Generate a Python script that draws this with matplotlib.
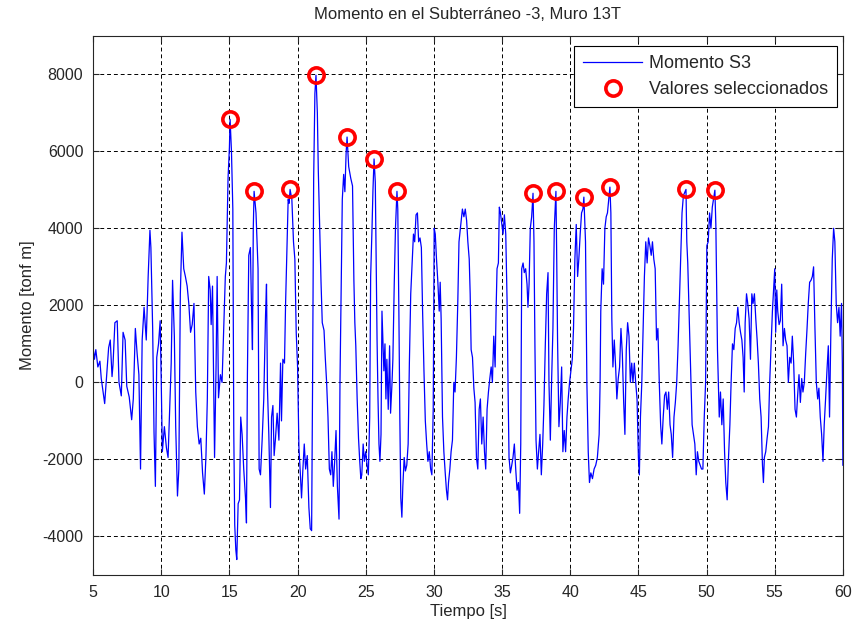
import matplotlib
matplotlib.use("Agg")
import matplotlib.pyplot as plt

plt.rcParams['font.family'] = ['Liberation Sans', 'DejaVu Sans']
plt.rcParams['axes.unicode_minus'] = False

# señal digitalizada (tiempo [s], momento [tonf m])
tiempo = [
    5.0, 5.1, 5.2, 5.35, 5.5, 5.6, 5.75, 5.85, 6.0, 6.14, 6.26, 6.39, 6.46, 6.6, 6.77, 6.9,
    7.07, 7.2, 7.35, 7.47, 7.65, 7.83, 7.95, 8.1, 8.23, 8.36, 8.48, 8.6, 8.74, 8.9, 9.04, 9.17,
    9.24, 9.37, 9.47, 9.57, 9.67, 9.8, 9.92, 10.0, 10.08, 10.23, 10.38, 10.5, 10.63, 10.73, 10.83, 10.96,
    11.06, 11.19, 11.29, 11.4, 11.52, 11.65, 11.77, 11.9, 12.02, 12.15, 12.27, 12.4, 12.53, 12.65, 12.78, 12.9,
    13.03, 13.16, 13.28, 13.38, 13.48, 13.59, 13.66, 13.76, 13.91, 14.02, 14.1, 14.2, 14.34, 14.46, 14.58, 14.7,
    14.78, 14.9, 15.0, 15.05, 15.15, 15.25, 15.32, 15.39, 15.47, 15.54, 15.64, 15.74, 15.83, 15.93, 16.05, 16.18,
    16.25, 16.32, 16.42, 16.54, 16.62, 16.69, 16.75, 16.81, 16.95, 17.1, 17.18, 17.28, 17.4, 17.52, 17.65, 17.72,
    17.79, 17.89, 18.01, 18.09, 18.19, 18.28, 18.38, 18.5, 18.63, 18.75, 18.82, 18.92, 19.04, 19.12, 19.22, 19.31,
    19.38, 19.45, 19.58, 19.7, 19.8, 19.9, 20.0, 20.1, 20.2, 20.29, 20.39, 20.49, 20.59, 20.71, 20.83, 20.93,
    21.03, 21.1, 21.18, 21.27, 21.35, 21.45, 21.52, 21.62, 21.72, 21.81, 21.94, 22.03, 22.13, 22.23, 22.33, 22.43,
    22.52, 22.62, 22.72, 22.82, 22.92, 23.04, 23.11, 23.21, 23.28, 23.38, 23.47, 23.56, 23.63, 23.75, 23.9, 24.03,
    24.13, 24.2, 24.27, 24.37, 24.47, 24.56, 24.64, 24.71, 24.81, 24.9, 25.0, 25.1, 25.19, 25.29, 25.36, 25.46,
    25.53, 25.61, 25.7, 25.75, 25.83, 25.9, 25.97, 26.04, 26.12, 26.19, 26.26, 26.33, 26.41, 26.48, 26.55, 26.65,
    26.75, 26.82, 26.92, 26.99, 27.09, 27.18, 27.29, 27.35, 27.43, 27.5, 27.57, 27.65, 27.72, 27.82, 27.91, 28.01,
    28.11, 28.2, 28.3, 28.4, 28.5, 28.59, 28.69, 28.79, 28.88, 28.98, 29.08, 29.17, 29.27, 29.37, 29.47, 29.56,
    29.66, 29.76, 29.85, 29.95, 30.02, 30.1, 30.19, 30.29, 30.39, 30.46, 30.53, 30.63, 30.73, 30.83, 30.92, 31.0,
    31.07, 31.17, 31.26, 31.36, 31.46, 31.55, 31.65, 31.75, 31.84, 31.97, 32.09, 32.2, 32.3, 32.4, 32.49, 32.59,
    32.66, 32.73, 32.83, 32.93, 33.02, 33.12, 33.22, 33.32, 33.41, 33.51, 33.61, 33.71, 33.8, 33.9, 34.0, 34.1,
    34.2, 34.29, 34.39, 34.49, 34.56, 34.63, 34.73, 34.8, 34.88, 34.98, 35.07, 35.17, 35.27, 35.37, 35.44, 35.51,
    35.61, 35.71, 35.8, 35.9, 36.0, 36.1, 36.2, 36.29, 36.37, 36.44, 36.54, 36.63, 36.73, 36.83, 36.9, 36.98,
    37.07, 37.17, 37.27, 37.34, 37.41, 37.49, 37.59, 37.68, 37.78, 37.88, 37.98, 38.07, 38.17, 38.27, 38.37, 38.44,
    38.54, 38.63, 38.73, 38.83, 38.95, 39.0, 39.07, 39.17, 39.27, 39.37, 39.46, 39.56, 39.66, 39.76, 39.85, 39.95,
    40.05, 40.15, 40.24, 40.34, 40.44, 40.54, 40.63, 40.73, 40.83, 40.93, 41.0, 41.12, 41.22, 41.32, 41.41, 41.51,
    41.63, 41.75, 41.87, 41.99, 42.12, 42.19, 42.24, 42.34, 42.44, 42.54, 42.64, 42.73, 42.91, 42.98, 43.05, 43.13,
    43.23, 43.33, 43.42, 43.52, 43.62, 43.72, 43.82, 43.92, 44.01, 44.11, 44.21, 44.31, 44.41, 44.51, 44.6, 44.7,
    44.8, 44.9, 45.0, 45.07, 45.15, 45.25, 45.34, 45.44, 45.54, 45.64, 45.74, 45.84, 45.94, 46.03, 46.13, 46.23,
    46.33, 46.43, 46.53, 46.63, 46.72, 46.82, 46.92, 47.02, 47.12, 47.22, 47.32, 47.41, 47.51, 47.61, 47.71, 47.81,
    47.91, 48.0, 48.1, 48.2, 48.3, 48.49, 48.55, 48.62, 48.7, 48.78, 48.86, 48.94, 49.04, 49.14, 49.24, 49.33,
    49.43, 49.53, 49.63, 49.73, 49.83, 49.93, 50.02, 50.12, 50.22, 50.32, 50.42, 50.61, 50.68, 50.8, 50.93, 51.02,
    51.12, 51.22, 51.32, 51.41, 51.51, 51.61, 51.71, 51.8, 51.9, 52.0, 52.1, 52.2, 52.29, 52.39, 52.49, 52.59,
    52.68, 52.76, 52.83, 52.93, 53.02, 53.12, 53.22, 53.32, 53.41, 53.51, 53.61, 53.71, 53.8, 53.9, 54.0, 54.1,
    54.17, 54.24, 54.34, 54.44, 54.54, 54.63, 54.73, 54.83, 54.93, 55.0, 55.07, 55.15, 55.22, 55.32, 55.41, 55.51,
    55.61, 55.71, 55.8, 55.9, 56.0, 56.1, 56.2, 56.29, 56.39, 56.49, 56.59, 56.68, 56.78, 56.88, 56.98, 57.07,
    57.17, 57.27, 57.37, 57.46, 57.56, 57.66, 57.76, 57.85, 57.95, 58.05, 58.15, 58.24, 58.34, 58.44, 58.54, 58.63,
    58.73, 58.83, 58.93, 59.02, 59.12, 59.22, 59.32, 59.41, 59.51, 59.61, 59.71, 59.8, 59.9, 59.96, 60.0,
]
momento = [
    900, 600, 850, 400, 550, 100, -300, -550, 200, 900, 1100, 150, 450, 1550, 1600, 0,
    -350, 1300, 1100, -100, -380, -970, -430, 1400, 750, 200, -2250, 1100, 1950, 1100, 2750, 3950,
    3500, 1400, -1300, -2700, 650, 1000, 1600, 0, -1800, -1150, -1700, -1950, -600, 500, 2650, 1200,
    -1150, -2950, -2250, 2300, 3900, 2950, 2750, 2500, 2050, 1300, 1500, 2050, -250, -1150, -1600, -1450,
    -2350, -2900, -1900, -430, 2750, 2400, 1500, 2500, -1950, 400, 2750, -400, 200, 0, 1400, 2750,
    3100, 5300, 6100, 6830, 6000, 4500, -1300, -3700, -4350, -4600, -3150, -3050, -900, -1350, -2250, -3000,
    -3650, 200, 3300, 3500, 1950, 850, 4000, 4960, 4400, 2950, -2250, -2400, -1500, -430, 1750, 2550,
    -150, -1350, -3250, -900, -600, -1900, -1450, -800, -1500, 500, -1000, 600, 500, 2050, 3500, 4750,
    4650, 5010, 4750, 3650, 3200, 1300, 400, -1700, -2350, -3000, -2250, -1600, -2250, -1900, -3250, -3800,
    -3850, 0, 5300, 7500, 7975, 7000, 5500, 4000, 2600, 1550, 1350, 650, 0, -900, -2250, -2400,
    -1800, -2700, -2050, -1250, -2700, -3550, 0, 2750, 4750, 5400, 4950, 5950, 6370, 5600, 5300, 5100,
    2650, 1550, 950, -430, -1450, -2050, -2500, -2400, -1600, -2050, -1800, -2150, -2400, -900, 2750, 4000,
    5000, 5800, 5200, 3650, 1100, -430, -1600, -2050, -1350, 1850, 1100, 300, 1000, -430, 600, -700,
    950, -800, -70, 600, 2550, 4000, 4960, 4500, 1850, -900, -3000, -3500, -2700, -1950, -2300, -2150,
    -1600, 500, 2300, 3100, 3850, 3650, 4350, 4400, 3650, 3750, 3500, 1850, 300, -1000, -1600, -2050,
    -1800, -2250, -2400, -700, 4000, 3850, 3200, 2600, 1850, 2600, 1650, -900, -1800, -2350, -2800, -3050,
    -2600, -2250, -1800, -1500, 0, -250, 650, 2050, 3650, 4100, 4500, 4300, 4500, 4200, 3650, 3200,
    2300, 850, 650, -150, -520, -1950, -2250, -700, -430, -1600, -900, -1800, -2250, -700, -250, 100,
    400, 0, 1200, 400, 1850, 2950, 3100, 4550, 4400, 4100, 3850, 4350, 3850, 2050, -150, -1950,
    -2350, -2150, -1950, -1600, -2250, -2800, -2600, -3400, -1600, 2950, 3100, 2850, 2950, 2550, 1950, 2550,
    4000, 4300, 4910, 3650, 950, -1500, -2250, -1800, -1350, -2400, -1600, -600, 950, 2300, 2850, 0,
    -1500, 0, 1400, 4000, 4960, 3500, 1100, -1150, -520, 400, -1800, -1250, -1800, -900, -430, 0,
    300, 600, 1400, 3200, 4100, 2750, 3200, 3850, 4400, 4500, 4810, 3650, 0, -1800, -2600, -2350,
    -2500, -2250, -2150, -1950, -1350, 0, 1850, 2950, 2550, 4000, 4300, 4400, 5070, 4400, 1650, 400,
    1100, 400, -430, 100, 400, 1400, 750, -520, -1350, 850, 1550, 1200, 0, 500, 0, 500,
    0, -430, -1950, -2400, -900, 0, 1300, 2750, 3650, 3100, 3750, 3550, 3300, 3650, 3200, 2950,
    1100, 1400, 0, -1100, -1600, -900, -340, -250, -700, -250, -1100, -1350, -1950, -900, -520, 0,
    950, 2050, 3200, 4400, 4850, 5010, 3650, 3100, 2050, 950, 0, -1100, -1350, -1600, -2400, -1800,
    -2050, -2150, -2250, -2250, -900, 0, 3550, 3650, 4400, 4000, 4550, 4990, 4100, 850, -900, -250,
    -1100, -430, -1800, -2600, -3050, -1950, -1100, 0, 1000, 850, 1400, 1550, 1950, 1550, 1300, 1100,
    650, -250, 1550, 2300, 2050, 1650, 600, 2300, 2050, 2300, 1650, 1100, 500, -430, -900, -2150,
    -2600, -1950, -1800, -1450, -1150, 0, 950, 1850, 2500, 2950, 1300, 2400, 1850, 1500, 1600, 2550,
    950, 1400, 1100, 950, 0, 650, 500, 1200, 500, -700, -900, -340, 200, -520, 100, -250,
    0, 750, 1400, 2050, 2600, 2650, 2750, 3000, 1400, 0, -430, -150, -900, -1350, -2050, -1100,
    -430, 300, 950, -900, 1400, 3200, 4000, 3650, 2050, 1550, 1950, 1200, 2050, 500, -2150,
]

# valores seleccionados (picos)
pico_t = [15.05, 16.81, 19.45, 21.35, 23.63, 25.61, 27.29, 37.27, 38.95, 41.0, 42.91, 48.49, 50.61]
pico_v = [6830, 4960, 5010, 7975, 6370, 5800, 4960, 4910, 4960, 4810, 5070, 5010, 4990]

x_ticks = list(range(5, 61, 5))
y_ticks = list(range(-4000, 8001, 2000))

fig = plt.figure(figsize=(8.54, 6.27), dpi=100)
ax = fig.add_axes([0.109, 0.083, 0.878, 0.860])

ax.plot(tiempo, momento, color='#0000ff', linewidth=0.9, label='Momento S3')
ax.plot(pico_t, pico_v, linestyle='None', marker='o', markersize=11,
        markerfacecolor='none', markeredgecolor='#ff0000', markeredgewidth=2.6,
        label='Valores seleccionados')

ax.set_xlim(5, 60)
ax.set_ylim(-5000, 9000)
ax.set_xticks(x_ticks)
ax.set_yticks(y_ticks)
ax.tick_params(direction='in', length=4, labelsize=11.5, colors='#262626',
               top=True, right=True)
ax.tick_params(axis='x', pad=7)
ax.tick_params(axis='y', pad=7)
ax.grid(True, color='black', linestyle=(0, (4, 3)), linewidth=0.7)
for s in ax.spines.values():
    s.set_linewidth(0.8)
    s.set_color('#262626')

ax.set_title('Momento en el Subterráneo -3, Muro 13T', fontsize=12,
             pad=12, color='#262626')
ax.set_xlabel('Tiempo [s]', fontsize=12, labelpad=3, color='#262626')
ax.set_ylabel('Momento [tonf m]', fontsize=12, labelpad=5, color='#262626')

leg = ax.legend(loc='upper right', bbox_to_anchor=(0.992, 0.981), borderaxespad=0,
                fontsize=13, fancybox=False, framealpha=1, edgecolor='black',
                handlelength=3.3, handletextpad=0.35, borderpad=0.5,
                labelspacing=0.5)
leg.get_frame().set_linewidth(0.8)
for t in leg.get_texts():
    t.set_color('#262626')

fig.savefig('out.png', dpi=100)
